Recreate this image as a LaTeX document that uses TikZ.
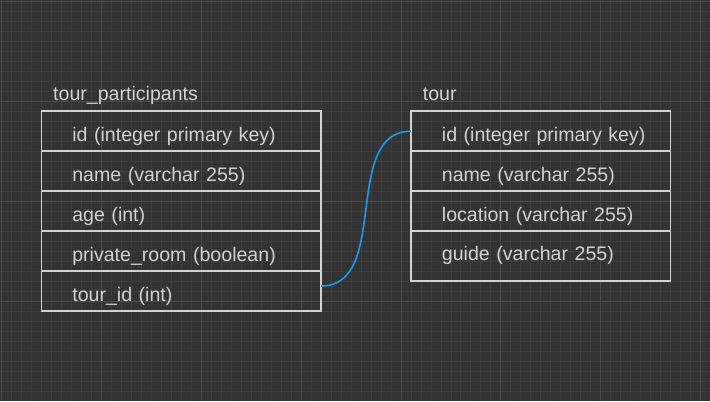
\documentclass[tikz,border=0pt]{standalone}
\usepackage{fontspec}
\setmainfont{Liberation Sans}
\usetikzlibrary{positioning}
\definecolor{canvas}{HTML}{333333}
\definecolor{minorline}{HTML}{3D3D3D}
\definecolor{majorline}{HTML}{4B4B4B}
\definecolor{ink}{HTML}{D2D2D2}
\definecolor{wire}{HTML}{1A9BF0}
\begin{document}
\begin{tikzpicture}[x=1pt,y=-1pt,font=\fontsize{19.6}{23}\selectfont,
row/.style={draw=ink,line width=1.6pt,text=ink,outer sep=0pt,inner sep=0pt,minimum height=40pt,text height=21.4pt,text depth=0pt,align=left,execute at begin node={\hspace*{31pt}}},
prow/.style={row,text width=280pt},
trow/.style={row,text width=260pt},
lastrow/.style={minimum height=50pt,text depth=12pt},
title/.style={text=ink,inner sep=0pt,anchor=base west},
fk/.style={draw=wire,line width=1.6pt}]
\fill[canvas] (0,0) rectangle (710,401);
\foreach \i in {1,11,...,701} \draw[minorline,line width=.8pt] (\i,0)--(\i,401);
\foreach \j in {1,11,...,391} \draw[minorline,line width=.8pt] (0,\j)--(710,\j);
\foreach \i in {1,101,...,701} \draw[majorline,line width=.8pt] (\i,0)--(\i,401);
\foreach \j in {1,101,...,301} \draw[majorline,line width=.8pt] (0,\j)--(710,\j);
\useasboundingbox (0,0) rectangle (710,401);
\node[prow,anchor=north west] (p1) at (41,111) {id (integer primary key)};
\node[prow,below=0pt of p1] (p2) {name (varchar 255)};
\node[prow,below=0pt of p2] (p3) {age (int)};
\node[prow,below=0pt of p3] (p4) {private\_room (boolean)};
\node[prow,below=0pt of p4] (p5) {tour\_id (int)};
\node[title] (ptitle) at ([xshift=11.7pt,yshift=10.4pt]p1.north west) {tour\_participants};
\node[trow,anchor=north west] (t1) at (411,111) {id (integer primary key)};
\node[trow,below=0pt of t1] (t2) {name (varchar 255)};
\node[trow,below=0pt of t2] (t3) {location (varchar 255)};
\node[trow,lastrow,below=0pt of t3] (t4) {guide (varchar 255)};
\node[title] (ttitle) at ([xshift=11.7pt,yshift=10.4pt]t1.north west) {tour};
\draw[fk] ([yshift=5pt]p5.east) to[out=0,in=180] (t1.west);
\end{tikzpicture}
\end{document}
